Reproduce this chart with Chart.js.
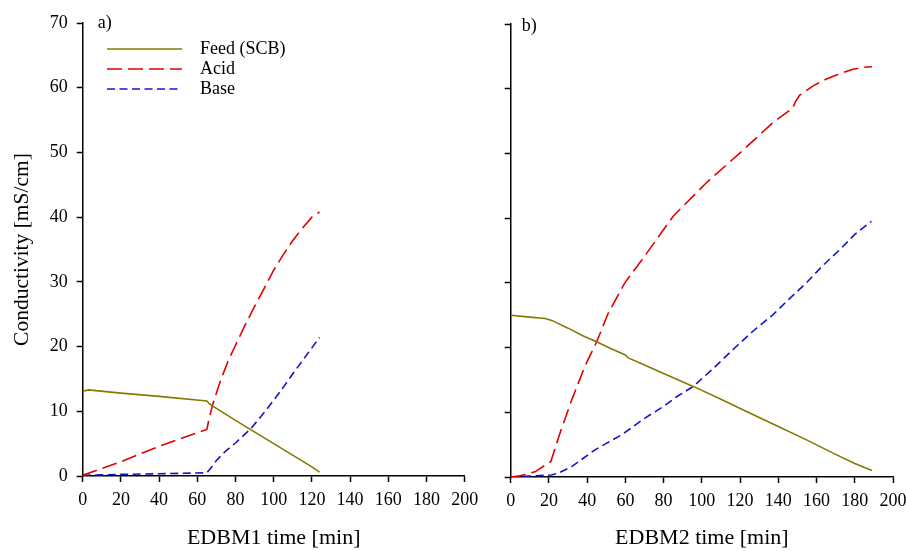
<!DOCTYPE html>
<html lang="en">
<head>
<meta charset="UTF-8">
<title>EDBM conductivity</title>
<script src="https://cdn.jsdelivr.net/npm/chart.js"></script>
<style>
  body { margin: 0; background: #fff; }
  .panel { position: absolute; top: 0; height: 551px; }
  #left { left: 0; width: 480px; }
  #right { left: 470px; width: 436px; }
</style>
</head>
<body>
<div class="panel" id="left"><canvas id="edbm1"></canvas></div>
<div class="panel" id="right"><canvas id="edbm2"></canvas></div>
<script>
// panel a) EDBM1
const feed1Time = [0, 3, 20, 40, 65, 66.5, 80, 100, 120, 124];
const feed1 = [13.1, 13.3, 12.8, 12.3, 11.6, 11.1, 8.6, 5.0, 1.4, 0.6];
const acid1Time = [0, 20, 40, 65, 66, 68, 72, 76, 80, 85, 90, 95, 100, 105, 110, 115, 120, 124];
const acid1 = [0.1, 2.2, 4.6, 7.2, 8.6, 11.0, 14.6, 17.7, 20.2, 23.3, 26.2, 29.0, 31.8, 34.2, 36.4, 38.3, 40.0, 40.8];
const base1Time = [0, 20, 40, 65, 67, 70, 75, 80, 88, 95, 100, 105, 110, 115, 120, 124];
const base1 = [0.1, 0.25, 0.35, 0.5, 1.2, 2.4, 3.9, 5.1, 7.3, 9.8, 11.7, 13.7, 15.8, 17.8, 19.8, 21.4];

// panel b) EDBM2
const feed2Time = [0, 10, 18, 21.5, 30, 38, 45, 52, 59.7, 61.5, 70, 80, 95.5, 110, 125, 140, 155, 170, 180, 189];
const feed2 = [25.0, 24.7, 24.5, 24.2, 23.0, 21.8, 20.9, 19.9, 18.9, 18.4, 17.3, 16.0, 14.0, 12.0, 9.9, 7.8, 5.7, 3.5, 2.1, 1.0];
const acid2Time = [0, 5, 12.7, 21, 25.8, 31.9, 38.8, 45, 51, 59.7, 70, 85, 102.5, 120, 137.3, 144.3, 147.5, 149, 151.2, 158, 165.2, 172, 179.1, 184, 189];
const acid2 = [0, 0.2, 0.8, 2.4, 6.8, 11.9, 17.1, 20.9, 25.3, 30.0, 34.1, 40.3, 45.5, 50.1, 54.8, 56.3, 57.0, 58.0, 59.0, 60.4, 61.5, 62.3, 63.0, 63.3, 63.4];
const base2Time = [0, 10, 21.4, 25, 31.9, 38, 44.1, 50, 58, 70.2, 80, 86.8, 95.5, 105, 118.1, 127, 137.3, 146, 154.7, 163, 172.1, 180, 188.7];
const base2 = [0, 0.15, 0.3, 0.6, 1.6, 2.9, 4.2, 5.2, 6.5, 9.1, 10.9, 12.4, 14.0, 16.5, 20.2, 22.6, 25.1, 27.6, 30.0, 32.6, 35.1, 37.5, 39.5];

const seriesNames = ['Feed (SCB)', 'Acid', 'Base'];
const xTitles = ['EDBM1 time [min]', 'EDBM2 time [min]'];

const serif = '"Liberation Serif", "Times New Roman", serif';
Chart.defaults.font.family = serif;
Chart.defaults.color = '#000';

const pairs = (t, v) => t.map((x, i) => ({ x: x, y: v[i] }));

function makeSets(ft, f, at, a, bt, b) {
  return [
    { label: seriesNames[0], data: pairs(ft, f), borderColor: 'rgb(135,120,0)', borderWidth: 1.6 },
    { label: seriesNames[1], data: pairs(at, a), borderColor: 'rgb(225,0,0)', borderWidth: 1.6, borderDash: [15, 6] },
    { label: seriesNames[2], data: pairs(bt, b), borderColor: 'rgb(20,20,205)', borderWidth: 1.6, borderDash: [8, 4.5] }
  ];
}

// small key drawn inside panel a)
const keyPlugin = {
  id: 'seriesKey',
  afterDatasetsDraw(chart) {
    if (!chart.options.plugins.seriesKey.show) return;
    const ctx = chart.ctx;
    ctx.save();
    chart.data.datasets.forEach((ds, i) => {
      const y = 49 + i * 20;
      ctx.strokeStyle = ds.borderColor;
      ctx.lineWidth = ds.borderWidth;
      ctx.setLineDash(ds.borderDash || []);
      ctx.beginPath();
      ctx.moveTo(107, y);
      ctx.lineTo(182, y);
      ctx.stroke();
      ctx.setLineDash([]);
      ctx.fillStyle = '#000';
      ctx.font = '18px ' + serif;
      ctx.textBaseline = 'middle';
      ctx.fillText(ds.label, 200, y);
    });
    ctx.restore();
  }
};

const tagPlugin = {
  id: 'panelTag',
  afterDraw(chart) {
    const o = chart.options.plugins.panelTag;
    const ctx = chart.ctx;
    ctx.save();
    ctx.fillStyle = '#000';
    ctx.font = '18px ' + serif;
    ctx.textBaseline = 'middle';
    ctx.fillText(o.text, chart.chartArea.left + o.dx, chart.chartArea.top + o.dy);
    ctx.restore();
  }
};

function makeChart(id, sets, opt) {
  return new Chart(document.getElementById(id), {
    type: 'line',
    data: { datasets: sets },
    plugins: [keyPlugin, tagPlugin],
    options: {
      responsive: true,
      maintainAspectRatio: false,
      animation: false,
      layout: { padding: { top: opt.top, right: opt.right, left: 0, bottom: 0 } },
      elements: {
        point: { radius: 0 },
        line: { tension: 0, fill: false }
      },
      plugins: {
        legend: { display: false },
        tooltip: { enabled: false },
        seriesKey: { show: opt.key },
        panelTag: { text: opt.tag, dx: opt.tagDx, dy: opt.tagDy }
      },
      scales: {
        x: {
          type: 'linear',
          min: 0, max: 200,
          afterFit: s => { s.height = opt.xHeight; s.paddingLeft = 0; s.paddingRight = 0; },
          border: { display: true, color: '#000', width: 1.5 },
          grid: { display: true, drawOnChartArea: false, drawTicks: true, tickLength: 6, tickColor: '#000', tickWidth: 1.5 },
          ticks: { stepSize: 20, padding: 7, maxRotation: 0, font: { size: 18 } },
          title: { display: true, text: opt.xTitle, font: { size: 22 }, padding: { top: 0, bottom: 0 } }
        },
        y: {
          type: 'linear',
          min: 0, max: 70,
          afterFit: s => { s.width = opt.yWidth; },
          border: { display: true, color: '#000', width: 1.5 },
          grid: { display: true, drawOnChartArea: false, drawTicks: true, tickLength: 6, tickColor: '#000', tickWidth: 1.5 },
          ticks: { stepSize: 10, padding: 9, display: opt.yLabels, font: { size: 18 } },
          title: { display: opt.yLabels, text: 'Conductivity [mS/cm]', font: { size: 21.5 }, padding: { top: 9, bottom: 0 } }
        }
      }
    }
  });
}

makeChart('edbm1', makeSets(feed1Time, feed1, acid1Time, acid1, base1Time, base1), {
  top: 23, right: 15.3, xHeight: 75, yWidth: 82.7, yLabels: true, key: true,
  xTitle: xTitles[0], tag: 'a)', tagDx: 15, tagDy: 0
});

makeChart('edbm2', makeSets(feed2Time, feed2, acid2Time, acid2, base2Time, base2), {
  top: 24, right: 13, xHeight: 74, yWidth: 40.7, yLabels: false, key: false,
  xTitle: xTitles[1], tag: 'b)', tagDx: 11, tagDy: 2
});
</script>
</body>
</html>
